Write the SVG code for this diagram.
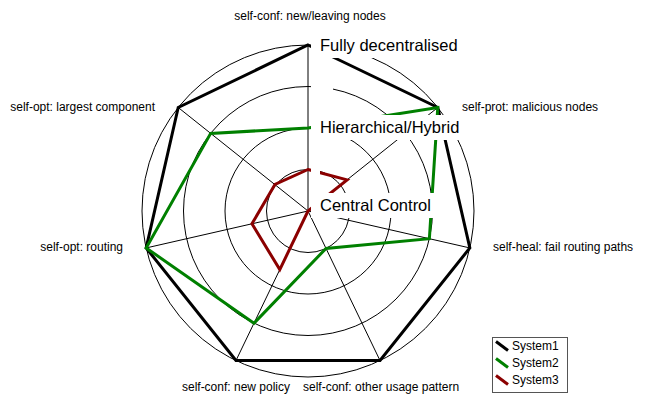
<svg xmlns="http://www.w3.org/2000/svg" width="645" height="394" viewBox="0 0 645 394">
  <style>
    .ring { fill: none; stroke: #000; stroke-width: 1; }
    .spoke { stroke: #000; stroke-width: 1; }
    .series { fill: none; stroke-width: 3; stroke-linejoin: miter; stroke-miterlimit: 10; }
    .s1 { stroke: #000; }
    .s2 { stroke: #008000; }
    .s3 { stroke: #8b0000; }
    .lvlbox { fill: #fff; stroke: none; }
    .lvl { font-family: "Liberation Sans", Arial, sans-serif; font-size: 16.5px; fill: #000; }
    .axl { font-family: "Liberation Sans", Arial, sans-serif; font-size: 12px; fill: #000; }
    .leg { font-family: "Liberation Sans", Arial, sans-serif; font-size: 12px; fill: #000; }
  </style>
  <rect width="645" height="394" fill="#fff"/>

  <!-- spider web grid: 4 rings and 7 spokes around (308,211) -->
  <g id="grid">
    <circle class="ring" cx="308" cy="211" r="41.5"/>
    <circle class="ring" cx="308" cy="211" r="83"/>
    <circle class="ring" cx="308" cy="211" r="124.5"/>
    <circle class="ring" cx="308" cy="211" r="166"/>
    <line class="spoke" x1="308" y1="211" x2="308" y2="45"/>
    <line class="spoke" x1="308" y1="211" x2="437.78" y2="107.5"/>
    <line class="spoke" x1="308" y1="211" x2="469.84" y2="247.94"/>
    <line class="spoke" x1="308" y1="211" x2="380.02" y2="360.56"/>
    <line class="spoke" x1="308" y1="211" x2="235.98" y2="360.56"/>
    <line class="spoke" x1="308" y1="211" x2="146.16" y2="247.94"/>
    <line class="spoke" x1="308" y1="211" x2="178.22" y2="107.5"/>
  </g>

  <!-- data series -->
  <g id="connectors">
    <polygon id="system1" class="series s1" points="308,45 437.78,107.5 469.84,247.94 380.02,360.56 235.98,360.56 146.16,247.94 178.22,107.5"/>
    <polygon id="system2" class="series s2" points="308,128 437.78,107.5 429.38,238.7 326.01,248.39 253.98,323.17 146.16,247.94 210.66,133.38"/>
    <polygon id="system3" class="series s3" points="308,169.5 347.09,179.83 308,211 279.8,269.56 251.94,223.79 275,184.5"/>
  </g>

  <!-- level labels on the vertical spoke, each on a white plate -->
  <g id="level-4">
    <rect class="lvlbox" x="311" y="33" width="150" height="25"/>
    <text class="lvl" x="320" y="51">Fully decentralised</text>
  </g>
  <g id="level-3">
    <rect class="lvlbox" x="311" y="76" width="22" height="24"/>
  </g>
  <g id="level-2">
    <rect class="lvlbox" x="311" y="115" width="151" height="25"/>
    <text class="lvl" x="320" y="133">Hierarchical/Hybrid</text>
  </g>
  <g id="level-1">
    <rect class="lvlbox" x="311" y="158" width="9" height="24"/>
  </g>
  <g id="level-0">
    <rect class="lvlbox" x="311" y="193" width="124" height="25"/>
    <text class="lvl" x="320" y="211">Central Control</text>
  </g>

  <!-- axis captions -->
  <g id="axis-labels">
    <text class="axl" x="310" y="20" text-anchor="middle">self-conf: new/leaving nodes</text>
    <text class="axl" x="462" y="111">self-prot: malicious nodes</text>
    <text class="axl" x="493" y="251">self-heal: fail routing paths</text>
    <text class="axl" x="303" y="391">self-conf: other usage pattern</text>
    <text class="axl" x="290" y="391" text-anchor="end">self-conf: new policy</text>
    <text class="axl" x="123" y="251" text-anchor="end">self-opt: routing</text>
    <text class="axl" x="155" y="111" text-anchor="end">self-opt: largest component</text>
  </g>

  <!-- legend -->
  <g id="legend">
    <rect x="492.5" y="337.5" width="75" height="55" fill="#fff" stroke="#555" stroke-width="1"/>
    <line class="s1" x1="496" y1="341.5" x2="508" y2="350.5" stroke-width="3"/>
    <text class="leg" x="512" y="350">System1</text>
    <line class="s2" x1="496" y1="358.5" x2="508" y2="367.5" stroke-width="3"/>
    <text class="leg" x="512" y="367">System2</text>
    <line class="s3" x1="496" y1="375.5" x2="508" y2="384.5" stroke-width="3"/>
    <text class="leg" x="512" y="384">System3</text>
  </g>
</svg>
